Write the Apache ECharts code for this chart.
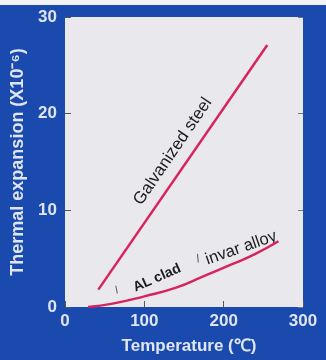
<!DOCTYPE html>
<html><head><meta charset="utf-8">
<script src="https://cdn.jsdelivr.net/npm/echarts@6/dist/echarts.min.js"></script>
<style>html,body{margin:0;padding:0;background:#1a4aae;}#c{width:326px;height:360px;}</style>
</head><body><div id="c"></div>
<script>
// Data
var xTicks = [0, 100, 200, 300];
var yTicks = [0, 10, 20, 30];
var galvanizedSteel = [[42, 1.8], [255, 27.1]];
var invarAlloy = [[29, 0], [60, 0.35], [100, 1.1], [140, 2.0], [175, 3.2], [210, 4.4], [240, 5.5], [269, 6.8]];
var xName = 'Temperature (℃)';
var yName = 'Thermal expansion (X10⁻⁶)';
var annotations = [
  {text: 'Galvanized steel', at: [136, 16.1], angle: 55.7, size: 17, weight: 'normal'},
  {text: 'AL clad', at: [116, 3.0], angle: 24, size: 14, weight: 'bold'},
  {text: 'invar alloy', at: [222, 6.1], angle: 19.3, size: 16.5, weight: 'normal'}
];
var tickMarks = [[[64, 2.2], [66, 1.4]], [[167, 5.5], [168, 4.6]]];

var chart = echarts.init(document.getElementById('c'), null, {renderer: 'canvas'});
var font = 'Liberation Sans, Arial, sans-serif';
var lblColor = '#dfe5f1';
var option = {
  backgroundColor: '#1a4aae',
  animation: false,
  grid: {left: 65, top: 17, right: 23, bottom: 49, show: true, backgroundColor: '#e9e9ed', borderWidth: 0},
  xAxis: {
    type: 'value', min: 0, max: 300, interval: 100,
    name: xName, nameLocation: 'middle', nameGap: 31,
    nameTextStyle: {color: lblColor, fontSize: 17, fontFamily: font, fontWeight: 'bold', padding: [0, 0, 0, 10]},
    axisLine: {show: false},
    axisTick: {show: true, inside: true, length: 6, lineStyle: {color: '#555'}},
    axisLabel: {color: lblColor, fontSize: 17, fontFamily: font, fontWeight: 'bold', margin: 6,
      formatter: function (v) { return xTicks.indexOf(v) >= 0 ? String(v) : ''; }},
    splitLine: {show: false}
  },
  yAxis: [{
    type: 'value', min: 0, max: 30, interval: 10,
    name: yName, nameLocation: 'middle', nameGap: 34,
    nameTextStyle: {color: lblColor, fontSize: 18, fontFamily: font, fontWeight: 'bold'},
    axisLine: {show: false},
    axisTick: {show: true, inside: true, length: 6, lineStyle: {color: '#555'}},
    axisLabel: {color: lblColor, fontSize: 17, fontFamily: font, fontWeight: 'bold', margin: 8,
      padding: [6, 0, 0, 0],
      formatter: function (v) { return yTicks.indexOf(v) >= 0 ? String(v) : ''; }},
    splitLine: {show: false}
  }, {
    type: 'value', min: 0, max: 30, interval: 10, position: 'right',
    axisLine: {show: false}, axisLabel: {show: false}, splitLine: {show: false},
    axisTick: {show: true, inside: true, length: 5, lineStyle: {color: '#777'}}
  }],
  series: [{
    type: 'line', data: galvanizedSteel, showSymbol: false,
    lineStyle: {color: '#d8245c', width: 2.5}
  }, {
    type: 'line', data: invarAlloy, showSymbol: false, smooth: 0.5,
    lineStyle: {color: '#d8245c', width: 2.5}
  }]
};
chart.setOption(option);

var graphics = [{type: 'rect', shape: {x: 0, y: 0, width: 326, height: 5}, style: {fill: '#f2f2f2'}}];
annotations.forEach(function (a) {
  var p = chart.convertToPixel({gridIndex: 0}, a.at);
  graphics.push({
    type: 'text', x: p[0], y: p[1], rotation: a.angle * Math.PI / 180,
    style: {text: a.text, fill: '#1c1c1c', font: a.weight + ' ' + a.size + 'px ' + font, textAlign: 'center', textVerticalAlign: 'middle'}
  });
});
tickMarks.forEach(function (t) {
  var p1 = chart.convertToPixel({gridIndex: 0}, t[0]);
  var p2 = chart.convertToPixel({gridIndex: 0}, t[1]);
  graphics.push({type: 'line', shape: {x1: p1[0], y1: p1[1], x2: p2[0], y2: p2[1]}, style: {stroke: '#555', lineWidth: 1}});
});
chart.setOption({graphic: graphics});
</script>
</body></html>
